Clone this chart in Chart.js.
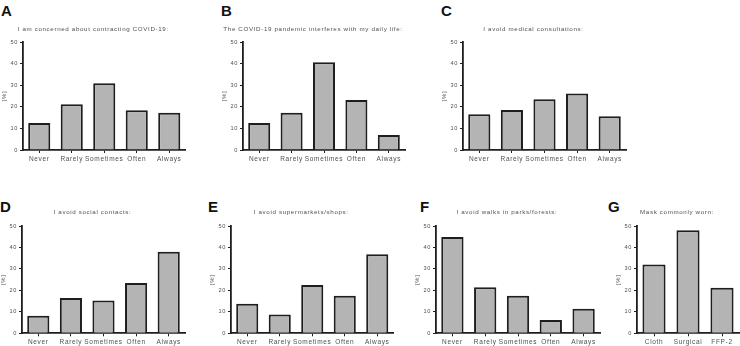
<!DOCTYPE html>
<html>
<head>
<meta charset="utf-8">
<script src="https://cdn.jsdelivr.net/npm/chart.js@4.4.0/dist/chart.umd.min.js"></script>
<style>
  body { margin: 0; width: 740px; height: 346px; overflow: hidden; background: #fff; position: relative; }
  canvas { position: absolute; }
  .tag { position: absolute; font: bold 15px "Liberation Sans", Arial, sans-serif; line-height: 15px; color: #111; }
</style>
</head>
<body>
<div class="tag" style="left:1px;top:3px">A</div>
<div class="tag" style="left:221px;top:3px">B</div>
<div class="tag" style="left:441px;top:3px">C</div>
<div class="tag" style="left:0px;top:199px">D</div>
<div class="tag" style="left:208px;top:199px">E</div>
<div class="tag" style="left:420px;top:199px">F</div>
<div class="tag" style="left:608px;top:199px">G</div>
<script>
// answer categories
const freqLabels = ['Never', 'Rarely', 'Sometimes', 'Often', 'Always']
const maskLabels = ['Cloth', 'Surgical', 'FFP-2']

// percentages
const concernedCovid = [12.5, 21.2, 30.9, 18.4, 17.3]
const interferesLife = [12.5, 17.3, 40.6, 23.1, 6.9]
const avoidMedical = [16.5, 18.5, 23.5, 26.2, 15.6]
const avoidSocial = [8.2, 16.4, 15.3, 23.4, 38.0]
const avoidShops = [13.8, 8.8, 22.5, 17.5, 36.9]
const avoidWalks = [44.9, 21.5, 17.5, 6.2, 11.4]
const maskWorn = [32.1, 48.0, 21.2]

const yMax = 50
const yStep = 10

const titles = [
    'I am concerned about contracting COVID-19:',
    'The COVID-19 pandemic interferes with my daily life:',
    'I avoid medical consultations:',
    'I avoid social contacts:',
    'I avoid supermarkets/shops:',
    'I avoid walks in parks/forests:',
    'Mask commonly worn:'
]

const FONT = '"Liberation Sans", Arial, sans-serif'
const TEXT = '#505050'
const INK = '#1e1e1e'

const spacing = {
    id: 'spacing',
    beforeDraw(chart) { chart.ctx.letterSpacing = '0.65px' }
}

// axisX = y axis line, cw = width per category, row = 0 top / 1 bottom
const panels = [
    { title: titles[0], labels: freqLabels, data: concernedCovid, axisX: 23, cw: 32.5, row: 0 },
    { title: titles[1], labels: freqLabels, data: interferesLife, axisX: 243, cw: 32.4, row: 0 },
    { title: titles[2], labels: freqLabels, data: avoidMedical, axisX: 463, cw: 32.6, row: 0 },
    { title: titles[3], labels: freqLabels, data: avoidSocial, axisX: 22, cw: 32.6, row: 1 },
    { title: titles[4], labels: freqLabels, data: avoidShops, axisX: 231, cw: 32.5, row: 1 },
    { title: titles[5], labels: freqLabels, data: avoidWalks, axisX: 436, cw: 32.8, row: 1 },
    { title: titles[6], labels: maskLabels, data: maskWorn, axisX: 637, cw: 34, row: 1 }
]

const rows = [
    { top: 16, height: 148, padTop: 9.3, padBottom: 9.3, xh: 14 },
    { top: 196, height: 150, padTop: 12.3, padBottom: 10.3, xh: 12.7 }
]

const YW = 22

panels.forEach(p => {
    const r = rows[p.row]
    const canvas = document.createElement('canvas')
    const w = Math.round(YW * 2 + p.cw * p.labels.length)
    canvas.width = w
    canvas.height = r.height
    canvas.style.left = (p.axisX - YW) + 'px'
    canvas.style.top = r.top + 'px'
    canvas.style.width = w + 'px'
    canvas.style.height = r.height + 'px'
    document.body.appendChild(canvas)

    new Chart(canvas.getContext('2d'), {
        type: 'bar',
        data: {
            labels: p.labels,
            datasets: [{
                data: p.data,
                backgroundColor: '#b4b4b4',
                borderColor: INK,
                borderWidth: 2,
                borderSkipped: 'bottom',
                barPercentage: 0.68,
                categoryPercentage: 1
            }]
        },
        options: {
            responsive: false,
            animation: false,
            devicePixelRatio: 1,
            layout: { padding: { left: 0, right: w - YW - p.cw * p.labels.length, top: 0, bottom: 0 } },
            plugins: {
                legend: { display: false },
                tooltip: { enabled: false },
                title: {
                    display: true,
                    text: p.title,
                    color: TEXT,
                    font: { family: FONT, size: 6.2, weight: 'normal' },
                    padding: { top: r.padTop, bottom: r.padBottom }
                }
            },
            scales: {
                x: {
                    afterFit: s => { s.height = r.xh },
                    grid: { display: true, drawOnChartArea: false, drawTicks: true, tickLength: 3, offset: false, color: INK, tickWidth: 1 },
                    border: { display: true, color: INK, width: 1.8 },
                    ticks: { color: TEXT, font: { family: FONT, size: 6.5 }, padding: 2, maxRotation: 0, autoSkip: false }
                },
                y: {
                    min: 0,
                    max: yMax,
                    afterFit: s => { s.width = YW },
                    grid: { display: true, drawOnChartArea: false, drawTicks: true, tickLength: 3, color: INK, tickWidth: 1 },
                    border: { display: true, color: INK, width: 1.8 },
                    ticks: { stepSize: yStep, color: TEXT, font: { family: FONT, size: 5.6 }, padding: 2 },
                    title: { display: true, text: '[%]', color: TEXT, font: { family: FONT, size: 6 }, padding: 0 }
                }
            }
        },
        plugins: [spacing]
    })
})
</script>
</body>
</html>
